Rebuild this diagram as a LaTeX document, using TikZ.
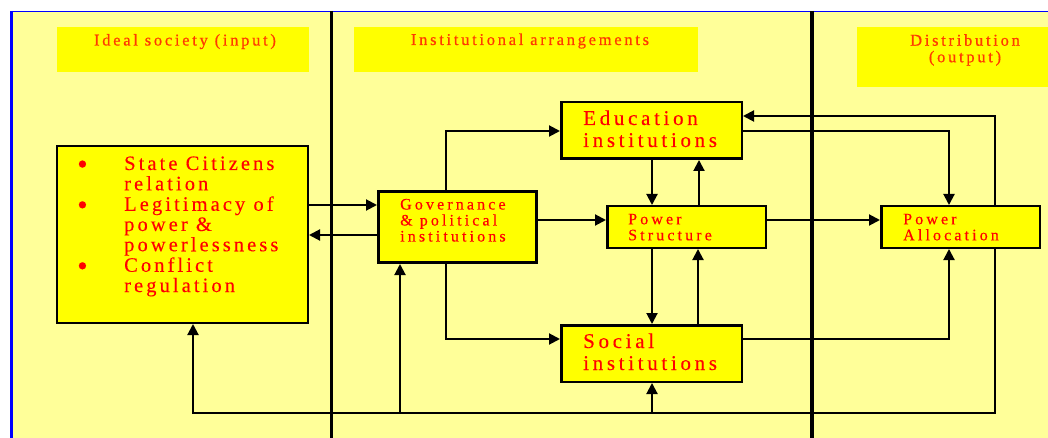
\documentclass[tikz,border=0pt]{standalone}
\usepackage{fontspec}
\setmainfont{Liberation Serif}
\newfontfamily\listfont[LetterSpace=15,FakeBold=0.2]{Liberation Serif}
\newfontfamily\bigfont[LetterSpace=17.5,FakeBold=0.2]{Liberation Serif}
\newfontfamily\smallfont[LetterSpace=19.5,FakeBold=0.3]{Liberation Serif}
\newfontfamily\headfont[LetterSpace=16.5,FakeBold=0.7]{Liberation Serif}
\usetikzlibrary{arrows.meta}

\definecolor{panel}{HTML}{FFFF99}
\definecolor{boxfill}{HTML}{FFFF00}
\definecolor{boxtext}{HTML}{FF0000}
\definecolor{headtext}{HTML}{FF3A00}
\definecolor{frameblue}{HTML}{0000FF}

\tikzset{
  box/.style={draw=black, fill=boxfill, line width=2.5pt, anchor=north west, inner sep=0pt},
  headbox/.style={fill=boxfill, anchor=north west, inner sep=0pt},
  txt/.style={anchor=base west, inner sep=0pt, text=boxtext},
  headtxt/.style={anchor=base, inner sep=0pt, text=headtext},
  link/.style={line width=2pt, draw=black, -{Triangle[length=11pt,width=11pt]}},
  divider/.style={draw=black},
}
% larger list bullet, set a little lower
\newcommand{\listmark}{\raisebox{-4pt}{\fontsize{30}{20}\selectfont\textbullet}}

\begin{document}
\begin{tikzpicture}[x=1pt,y=-1pt]
\useasboundingbox (0,0) rectangle (1048,438);
\fill[white] (0,0) rectangle (1048,438);

% panel and frame
\fill[panel] (11,11) rectangle (1048,438);
\draw[frameblue, line width=1.5pt] (11,11.5) -- (1048,11.5);
\draw[frameblue, line width=3pt] (11,11) -- (11,438);

% column separators
\draw[divider, line width=2.5pt] (331.5,11) -- (331.5,438);
\draw[divider, line width=4pt] (812,11) -- (812,438);

% column headings
\node[headbox, minimum width=252, minimum height=45] (headIn) at (57,27) {};
\node[headbox, minimum width=344, minimum height=45] (headArr) at (354,27) {};
\node[headbox, minimum width=220, minimum height=60] (headOut) at (857,27) {};
\node[headtxt] (headInT) at (185,45.5) {\fontsize{16.5}{17}\headfont Ideal society (input)};
\node[headtxt] (headArrT) at (530,45) {\fontsize{16.5}{17}\headfont Institutional arrangements};
\node[headtxt] (headOutT) at (965,45.7) {\fontsize{16.5}{16.5}\headfont
  \begin{tabular}[t]{@{}c@{}}Distribution\\(output)\end{tabular}};

% boxes
\node[box, minimum width=251, minimum height=176.5] (ideal) at (55.5,145) {};
\node[box, line width=3pt, minimum width=158, minimum height=71] (gov) at (377,190) {};
\node[box, minimum width=180.5, minimum height=56.5] (edu) at (560,101) {};
\node[box, minimum width=158.5, minimum height=41.5] (ps) at (606,205) {};
\node[box, minimum width=180.5, minimum height=56.5] (soc) at (560,324) {};
\node[box, minimum width=158.5, minimum height=41.5] (pa) at (880,205) {};

% feedback and link coordinates
\coordinate (loopL) at (193,413);
\coordinate (tapGov) at (400,413);
\coordinate (tapSoc) at (652,413);

% connectors
\draw[link] (ideal.east |- 0,205) -- (gov.west |- 0,205);
\draw[link] (gov.west |- 0,235) -- (ideal.east |- 0,235);
\draw[link] (gov.north -| 446,0) |- (edu.west |- 0,131);
\draw[link] (gov.south -| 446,0) |- (soc.west |- 0,339);
\draw[link] (gov.east |- 0,220) -- (ps.west |- 0,220);
\draw[link] (edu.south -| 652,0) -- (ps.north -| 652,0);
\draw[link] (ps.north -| 699,0) -- (edu.south -| 699,0);
\draw[link] (ps.south -| 652,0) -- (soc.north -| 652,0);
\draw[link] (soc.north -| 698,0) -- (ps.south -| 698,0);
\draw[link] (ps.east |- 0,220) -- (pa.west |- 0,220);
\draw[link] (edu.east |- 0,131) -| (pa.north -| 949,0);
\draw[link] (soc.east |- 0,339) -| (pa.south -| 949,0);
\draw[link] (pa.north -| 995,0) |- (edu.east |- 0,116);
\draw[link] (pa.south -| 995,0) |- (loopL) -- (ideal.south -| loopL);
\draw[link] (tapGov) -- (gov.south -| tapGov);
\draw[link] (tapSoc) -- (soc.south -| tapSoc);

% box texts
\node[txt] (idealT) at (77,170) {\fontsize{20.5}{20.2}\listfont
  \begin{tabular}[t]{@{}p{47pt}@{}l@{}}
  \listmark & State Citizens\\
            & relation\\
  \listmark & Legitimacy of\\
            & power \&\\
            & powerlessness\\
  \listmark & Conflict\\
            & regulation
  \end{tabular}};
\node[txt] (eduT) at (583,125) {\fontsize{21}{22}\bigfont
  \begin{tabular}[t]{@{}l@{}}Education\\institutions\end{tabular}};
\node[txt] (socT) at (583,348) {\fontsize{21}{22}\bigfont
  \begin{tabular}[t]{@{}l@{}}Social\\institutions\end{tabular}};
\node[txt] (govT) at (400,209.5) {\fontsize{16}{16}\smallfont
  \begin{tabular}[t]{@{}l@{}}Governance\\\& political\\institutions\end{tabular}};
\node[txt] (psT) at (628,224.3) {\fontsize{16}{16}\smallfont
  \begin{tabular}[t]{@{}l@{}}Power\\Structure\end{tabular}};
\node[txt] (paT) at (903,224.3) {\fontsize{16}{16}\smallfont
  \begin{tabular}[t]{@{}l@{}}Power\\Allocation\end{tabular}};
\end{tikzpicture}
\end{document}
